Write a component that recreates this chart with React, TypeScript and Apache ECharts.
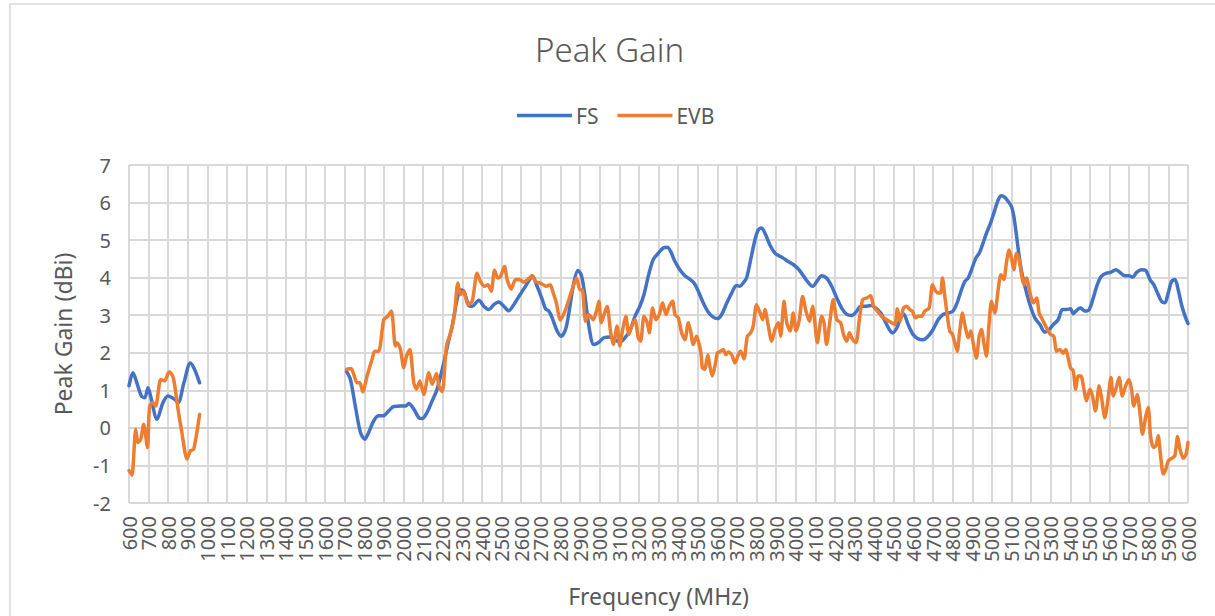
import React, { useEffect, useRef } from "react";
import * as echarts from "echarts";

// ---- Data (MHz, dBi); null = no measurement ----
const fsFreq = [
  600, 620, 640, 663, 680, 697, 710, 743, 773, 799, 833, 850, 880, 913, 935, 960,
  1300,
  1710, 1729, 1754, 1780, 1802, 1822, 1848, 1873, 1896, 1924, 1950, 1984, 2010, 2027, 2052, 2078, 2095,
  2120, 2146, 2171, 2205, 2231, 2248, 2273, 2290, 2307, 2333, 2350, 2384, 2409, 2435, 2460, 2486, 2511,
  2537, 2562, 2588, 2613, 2647, 2656, 2681, 2707, 2724, 2741, 2758, 2783, 2804, 2826, 2843, 2868, 2889,
  2906, 2923, 2945, 2970, 2996, 3021, 3055, 3089, 3110, 3129, 3154, 3180, 3205, 3226, 3248, 3273, 3299,
  3324, 3345, 3362, 3384, 3409, 3435, 3460, 3481, 3503, 3528, 3554, 3579, 3600, 3622, 3647, 3673, 3698,
  3715, 3732, 3749, 3770, 3792, 3809, 3826, 3843, 3868, 3894, 3916, 3936, 3962, 3987, 4013, 4035, 4059,
  4086, 4110, 4132, 4157, 4183, 4209, 4234, 4260, 4285, 4311, 4331, 4362, 4387, 4409, 4433, 4455, 4477,
  4494, 4515, 4535, 4550, 4573, 4598, 4624, 4649, 4675, 4700, 4726, 4751, 4777, 4802, 4823, 4845, 4862,
  4879, 4896, 4918, 4935, 4955, 4972, 4993, 5010, 5032, 5049, 5066, 5083, 5100, 5112, 5126, 5139, 5153,
  5173, 5194, 5219, 5245, 5270, 5292, 5313, 5338, 5360, 5381, 5401, 5415, 5432, 5452, 5474, 5496, 5517,
  5537, 5559, 5585, 5605, 5632, 5653, 5678, 5700, 5717, 5738, 5763, 5785, 5806, 5826, 5848, 5865, 5882,
  5899, 5916, 5933, 5950, 5967, 5988, 6000,
];
const fsGain = [
  1.12, 1.47, 1.2, 0.85, 0.8, 1.07, 0.85, 0.23, 0.67, 0.85, 0.76, 0.67, 1.2, 1.73, 1.55, 1.2,
  null,
  1.5, 1.29, 0.58, -0.12, -0.3, -0.12, 0.19, 0.32, 0.32, 0.45, 0.57, 0.58, 0.58, 0.65, 0.5, 0.27, 0.25,
  0.41, 0.72, 1.03, 1.73, 2.35, 2.71, 3.42, 3.68, 3.64, 3.26, 3.24, 3.4, 3.24, 3.15, 3.28, 3.35, 3.24,
  3.12, 3.28, 3.5, 3.7, 3.99, 4.05, 3.77, 3.42, 3.17, 3.11, 2.93, 2.58, 2.44, 2.62, 3.06, 3.86, 4.19,
  4.08, 3.59, 2.71, 2.22, 2.28, 2.4, 2.42, 2.31, 2.3, 2.4, 2.58, 2.97, 3.24, 3.55, 4.04, 4.48, 4.65,
  4.79, 4.81, 4.7, 4.43, 4.21, 4.05, 3.96, 3.86, 3.64, 3.33, 3.08, 2.95, 2.91, 3.02, 3.31, 3.59, 3.79,
  3.77, 3.86, 3.99, 4.48, 5.01, 5.27, 5.32, 5.18, 4.87, 4.65, 4.58, 4.52, 4.43, 4.35, 4.23, 4.08, 3.9,
  3.77, 3.92, 4.05, 3.99, 3.77, 3.46, 3.19, 3.02, 2.99, 3.11, 3.24, 3.24, 3.26, 3.19, 3.06, 2.84, 2.62,
  2.53, 2.66, 2.93, 3.03, 2.75, 2.49, 2.37, 2.35, 2.44, 2.62, 2.88, 3.02, 3.06, 3.11, 3.33, 3.68, 3.9,
  3.99, 4.21, 4.52, 4.65, 4.92, 5.18, 5.45, 5.72, 6.07, 6.18, 6.14, 6.03, 5.89, 5.63, 5.1, 4.57, 4.12,
  3.68, 3.28, 2.93, 2.75, 2.55, 2.62, 2.75, 2.88, 3.15, 3.15, 3.17, 3.04, 3.13, 3.19, 3.11, 3.15, 3.46,
  3.81, 4.04, 4.12, 4.14, 4.21, 4.14, 4.05, 4.05, 4.01, 4.14, 4.21, 4.19, 3.95, 3.81, 3.55, 3.37, 3.33,
  3.59, 3.9, 3.95, 3.68, 3.28, 2.93, 2.78,
];

const evbFreq = [
  600, 615, 634, 646, 660, 675, 694, 705, 722, 736, 762, 782, 804, 815, 828, 850, 867, 896, 913, 930, 960,
  1300,
  1710, 1732, 1749, 1763, 1777, 1792, 1814, 1839, 1853, 1873, 1899, 1919, 1938, 1958, 1967, 1984, 2001,
  2015, 2032, 2052, 2066, 2083, 2103, 2129, 2146, 2168, 2180, 2197, 2219, 2243, 2260, 2277, 2290, 2307,
  2328, 2350, 2375, 2392, 2413, 2430, 2447, 2464, 2481, 2494, 2515, 2528, 2549, 2571, 2592, 2613, 2633,
  2656, 2672, 2694, 2713, 2727, 2748, 2762, 2779, 2800, 2826, 2843, 2865, 2882, 2899, 2911, 2928, 2945,
  2967, 2984, 2996, 3008, 3025, 3038, 3055, 3069, 3089, 3103, 3116, 3133, 3149, 3163, 3180, 3197, 3209,
  3226, 3243, 3253, 3270, 3287, 3304, 3321, 3338, 3355, 3372, 3384, 3401, 3418, 3435, 3452, 3464, 3477,
  3494, 3515, 3524, 3535, 3552, 3562, 3574, 3591, 3600, 3617, 3630, 3644, 3656, 3673, 3690, 3707, 3719,
  3736, 3753, 3770, 3783, 3800, 3818, 3831, 3843, 3860, 3877, 3894, 3911, 3923, 3940, 3954, 3971, 3987,
  4001, 4018, 4035, 4052, 4069, 4086, 4110, 4132, 4144, 4157, 4174, 4191, 4209, 4229, 4243, 4260, 4273,
  4290, 4307, 4324, 4341, 4362, 4382, 4396, 4416, 4438, 4464, 4489, 4506, 4518, 4532, 4549, 4566, 4581,
  4595, 4610, 4624, 4641, 4658, 4680, 4697, 4709, 4726, 4738, 4748, 4760, 4773, 4785, 4799, 4811, 4823,
  4836, 4850, 4862, 4879, 4893, 4904, 4921, 4935, 4947, 4959, 4972, 4986, 4998, 5015, 5032, 5046, 5061,
  5074, 5088, 5100, 5112, 5126, 5139, 5151, 5163, 5177, 5194, 5211, 5228, 5241, 5258, 5279, 5299, 5316,
  5330, 5347, 5364, 5377, 5389, 5401, 5415, 5427, 5440, 5454, 5469, 5482, 5500, 5513, 5528, 5547, 5559,
  5576, 5593, 5607, 5619, 5632, 5649, 5665, 5682, 5699, 5712, 5724, 5741, 5755, 5768, 5785, 5797, 5809,
  5823, 5836, 5848, 5860, 5874, 5887, 5899, 5916, 5933, 5947, 5959, 5976, 5990, 6000,
];
const evbGain = [
  -1.14, -1.26, -0.04, -0.39, -0.3, 0.1, -0.52, 0.58, 0.67, 0.58, 1.29, 1.25, 1.49, 1.45, 1.29, 0.5, -0.04,
  -0.83, -0.61, -0.57, 0.36,
  null,
  1.56, 1.58, 1.38, 1.2, 1.2, 0.96, 1.38, 1.82, 2.04, 2.04, 2.88, 2.97, 3.11, 2.18, 2.27, 2.09, 1.6,
  1.91, 2.09, 1.2, 1.03, 1.25, 0.89, 1.47, 1.16, 1.45, 1.12, 0.96, 2.18, 2.58, 3.06, 3.86, 3.55, 3.64,
  3.28, 3.37, 4.12, 3.9, 3.77, 3.81, 3.64, 4.2, 3.99, 4.03, 4.3, 3.95, 3.7, 3.95, 3.95, 3.88, 3.95,
  4.05, 3.9, 3.86, 3.81, 3.77, 3.81, 3.61, 3.33, 2.87, 3.15, 3.42, 3.77, 3.99, 3.68, 3.68, 2.84, 3.02,
  2.88, 3.11, 3.37, 2.8, 3.06, 3.24, 2.58, 2.22, 2.71, 2.18, 2.58, 2.97, 2.49, 2.71, 2.88, 2.4, 2.31,
  2.97, 2.8, 2.53, 3.19, 2.88, 3.02, 3.33, 3.02, 3.24, 3.37, 3.02, 2.93, 2.53, 2.35, 2.8, 2.58, 2.22,
  2.44, 2.04, 1.6, 1.56, 1.95, 1.64, 1.38, 1.73, 1.99, 2.04, 2.09, 1.95, 2.02, 1.95, 1.73, 1.95, 2.04,
  1.84, 2.44, 2.53, 2.71, 3.28, 3.06, 2.88, 3.15, 2.71, 2.31, 2.62, 2.8, 2.44, 3.37, 2.8, 2.58, 3.06,
  2.58, 2.88, 3.5, 3.11, 2.84, 3.24, 2.27, 2.97, 2.8, 2.22, 2.84, 3.42, 2.88, 2.8, 2.49, 2.31, 2.53,
  2.35, 2.27, 2.88, 3.42, 3.46, 3.52, 3.24, 3.11, 2.97, 2.88, 2.8, 2.75, 3.17, 2.84, 3.19, 3.24, 3.15,
  3.1, 2.93, 2.97, 2.97, 3.11, 3.19, 3.81, 3.68, 3.59, 3.59, 3.99, 3.5, 2.97, 2.58, 2.49, 2.27, 2.04,
  2.58, 3.06, 2.75, 2.4, 2.58, 2.27, 1.86, 2.44, 2.62, 2.27, 1.91, 2.8, 3.37, 3.06, 3.68, 4.08, 3.95,
  4.39, 4.74, 4.52, 4.21, 4.65, 4.48, 4.08, 3.81, 3.99, 3.59, 3.33, 3.46, 3.06, 2.88, 2.66, 2.49, 2.44,
  2.04, 2.09, 1.99, 2.09, 1.86, 1.6, 1.51, 1.03, 1.38, 1.38, 1.03, 0.72, 1.03, 0.85, 0.45, 1.12, 0.81,
  0.27, 0.81, 1.34, 0.85, 1.03, 1.34, 0.85, 1.12, 1.29, 1.03, 0.58, 0.89, 0.41, -0.17, 0.32, 0.54, -0.21,
  -0.52, -0.48, -0.21, -0.74, -1.23, -1.1, -0.88, -0.81, -0.74, -0.23, -0.57, -0.81, -0.7, -0.39,
];

// x tick labels, one every 100 MHz
const xTickLabels = [
  "600", "700", "800", "900", "1000", "1100", "1200", "1300", "1400", "1500", "1600", "1700", "1800",
  "1900", "2000", "2100", "2200", "2300", "2400", "2500", "2600", "2700", "2800", "2900", "3000", "3100",
  "3200", "3300", "3400", "3500", "3600", "3700", "3800", "3900", "4000", "4100", "4200", "4300", "4400",
  "4500", "4600", "4700", "4800", "4900", "5000", "5100", "5200", "5300", "5400", "5500", "5600", "5700",
  "5800", "5900", "6000",
];

const seriesNames = ["FS", "EVB"];
const seriesColors = ["#4472C4", "#ED7D31"];
const yMin = -2;
const yMax = 7;
const xMin = 600;
const xMax = 6000;

const FONT = "'Noto Sans', 'DejaVu Sans', sans-serif";
const TEXT = "#595959";
const GRID = "#d9d9d9";

function pairs(freq: number[], gain: (number | null)[]) {
  return freq.map((f, i) => [f, gain[i] === null ? "-" : gain[i]]);
}

export default function App() {
  const ref = useRef<HTMLDivElement>(null);

  useEffect(() => {
    if (!ref.current) return;
    const chart = echarts.init(ref.current, null, { renderer: "svg" });
    chart.setOption({
      animation: false,
      backgroundColor: "#ffffff",
      title: {
        text: "Peak Gain",
        left: 535,
        top: 33,
        padding: 0,
        textStyle: { fontFamily: FONT, fontSize: 33, fontWeight: 300, color: TEXT },
      },
      legend: {
        left: 517,
        top: 105,
        padding: 0,
        itemWidth: 55,
        itemHeight: 3.5,
        itemGap: 19,
        icon: "rect",
        data: seriesNames,
        textStyle: { fontFamily: FONT, fontSize: 21, color: TEXT, padding: [0, 0, 0, -1] },
      },
      graphic: [
        {
          type: "rect",
          silent: true,
          shape: { x: 10, y: 4, width: 1240, height: 640 },
          style: { fill: "none", stroke: GRID, lineWidth: 1.5 },
          z: -10,
        },
      ],
      grid: {
        left: 129,
        right: 27,
        top: 165,
        bottom: 113,
        containLabel: false,
        outerBoundsMode: "none",
      },
      xAxis: [
        {
          type: "value",
          min: xMin,
          max: xMax,
          interval: 100,
          name: "Frequency (MHz)",
          nameLocation: "middle",
          nameGap: 81,
          nameTextStyle: { fontFamily: FONT, fontSize: 23, color: TEXT },
          axisLine: { show: true, lineStyle: { color: "#d0d0d0", width: 2 } },
          axisTick: { show: false },
          axisLabel: { show: false },
          splitLine: { show: true, lineStyle: { color: GRID, width: 2 } },
        },
        {
          type: "category",
          data: xTickLabels,
          boundaryGap: false,
          position: "bottom",
          axisLine: { show: false },
          axisTick: { show: false },
          splitLine: { show: false },
          axisLabel: {
            interval: 0,
            rotate: 90,
            margin: 13,
            fontFamily: FONT,
            fontSize: 20,
            color: TEXT,
            hideOverlap: false,
          },
        },
      ],
      yAxis: {
        type: "value",
        min: yMin,
        max: yMax,
        interval: 1,
        name: "Peak Gain (dBi)",
        nameLocation: "middle",
        nameRotate: 90,
        nameGap: 55,
        nameTextStyle: { fontFamily: FONT, fontSize: 23, color: TEXT },
        axisLine: { show: false },
        axisTick: { show: false },
        axisLabel: { margin: 18, fontFamily: FONT, fontSize: 20, color: TEXT },
        splitLine: { show: true, lineStyle: { color: GRID, width: 2 } },
      },
      series: [
        {
          name: seriesNames[0],
          type: "line",
          xAxisIndex: 0,
          data: pairs(fsFreq, fsGain),
          showSymbol: false,
          symbol: "none",
          smooth: 0.3,
          connectNulls: false,
          color: seriesColors[0],
          lineStyle: { color: seriesColors[0], width: 3.5, cap: "round", join: "round" },
          z: 3,
        },
        {
          name: seriesNames[1],
          type: "line",
          xAxisIndex: 0,
          data: pairs(evbFreq, evbGain),
          showSymbol: false,
          symbol: "none",
          smooth: 0.25,
          connectNulls: false,
          color: seriesColors[1],
          lineStyle: { color: seriesColors[1], width: 3.5, cap: "round", join: "round" },
          z: 4,
        },
      ],
    });
    return () => chart.dispose();
  }, []);

  return (
    <div
      ref={ref}
      style={{ position: "fixed", left: 0, top: 0, width: 1215, height: 616, background: "#fff" }}
    />
  );
}
